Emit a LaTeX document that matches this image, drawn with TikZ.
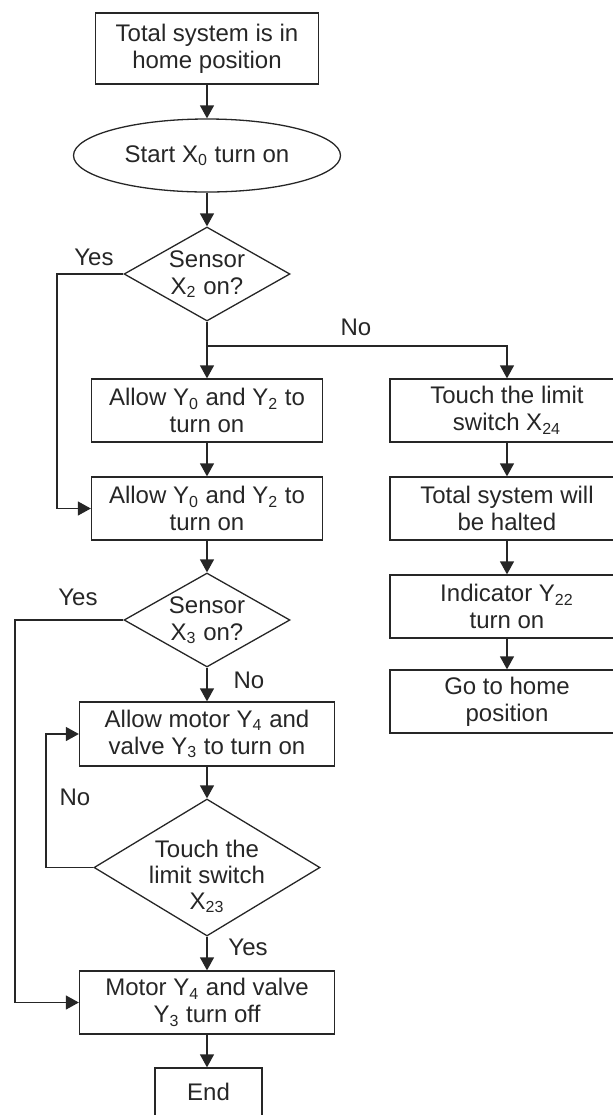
\documentclass[tikz,border=0pt]{standalone}
\usepackage{fontspec}
\setmainfont{Liberation Sans}
\usetikzlibrary{shapes.geometric,arrows.meta}

\tikzset{
  stepbox/.style={draw, rectangle, align=center, inner sep=0pt},
  decision/.style={draw, diamond, align=center, inner sep=-4pt, shape aspect=1.65},
  startnode/.style={draw, ellipse, align=center, inner sep=0pt},
  flow/.style={->, line width=0.65pt},
}

\begin{document}
\begin{tikzpicture}[x=0.5pt, y=-0.5pt, color=black!85, line width=0.65pt,
    >={Triangle[length=6.5pt,width=7pt]}, font=\fontsize{12}{13.5}\selectfont]
    \useasboundingbox (0,0) rectangle (613,1115);
    % main column
    \node[stepbox, minimum width=111.5pt, minimum height=35.5pt] (home) at (207,48.5) {Total system is in\\home position};
    \node[startnode, minimum width=133.5pt, minimum height=36.5pt] (start) at (207,155.5) {Start X\textsubscript{0} turn on};
    \node[decision, minimum width=83pt, minimum height=47pt] (sensorA) at (207,274) {Sensor\\X\textsubscript{2} on?};
    \node[stepbox, minimum width=115.5pt, minimum height=31.5pt] (allowA) at (207,410.5) {Allow Y\textsubscript{0} and Y\textsubscript{2} to\\turn on};
    \node[stepbox, minimum width=115.5pt, minimum height=31.5pt] (allowB) at (207,508.5) {Allow Y\textsubscript{0} and Y\textsubscript{2} to\\turn on};
    \node[decision, minimum width=83pt, minimum height=47pt] (sensorB) at (207,620) {Sensor\\X\textsubscript{3} on?};
    \node[stepbox, minimum width=127.5pt, minimum height=32pt] (motoron) at (207,734) {Allow motor Y\textsubscript{4} and\\valve Y\textsubscript{3} to turn on};
    \node[decision, minimum width=113pt, minimum height=68.5pt,
      label={[align=center, yshift=-4.5pt, font=\fontsize{12}{13}\selectfont]center:Touch the\\limit switch\\X\textsubscript{23}}] (limit) at (207,867.5) {};
    \node[stepbox, minimum width=127.5pt, minimum height=31.5pt] (motoroff) at (207,1002.5) {Motor Y\textsubscript{4} and valve\\Y\textsubscript{3} turn off};
    \node[stepbox, minimum width=53.5pt, minimum height=24pt] (finish) at (208.5,1092) {End};
    % right column
    \node[stepbox, minimum width=117pt, minimum height=31.5pt] (touch) at (507,410.5) {Touch the limit\\switch X\textsubscript{24}};
    \node[stepbox, minimum width=117pt, minimum height=31.5pt] (halt) at (507,508.5) {Total system will\\be halted};
    \node[stepbox, minimum width=117pt, minimum height=31.5pt] (indicator) at (507,606.5) {Indicator Y\textsubscript{22}\\turn on};
    \node[stepbox, minimum width=117pt, minimum height=31.5pt] (gohome) at (507,701.5) {Go to home\\position};
    % labels
    \node (yesA) at (94,257) {Yes};
    \node (noA) at (356,327) {No};
    \node (yesB) at (78,597) {Yes};
    \node (noB) at (249,680) {No};
    \node (noC) at (75,797) {No};
    \node (yesC) at (248,947) {Yes};
    % connectors
    \coordinate (split) at (207,346);
    \coordinate (cornerA) at (57,274);
    \coordinate (cornerB) at (15,620);
    \coordinate (cornerC) at (46,867.5);
    \draw[flow] (home) -- (start);
    \draw[flow] (start) -- (sensorA);
    \draw[flow] (sensorA) -- (allowA);
    \draw[flow] (split) -| (touch);
    \draw[flow] (allowA) -- (allowB);
    \draw[flow] (allowB) -- (sensorB);
    \draw[flow] (sensorB) -- (motoron);
    \draw[flow] (motoron) -- (limit);
    \draw[flow] (limit) -- (motoroff);
    \draw[flow] (motoroff.south) -- (motoroff.south |- finish.north);
    \draw[flow] (sensorA.west) -- (cornerA) |- (allowB.west);
    \draw[flow] (sensorB.west) -- (cornerB) |- (motoroff.west);
    \draw[flow] (limit.west) -- (cornerC) |- (motoron.west);
    \draw[flow] (touch) -- (halt);
    \draw[flow] (halt) -- (indicator);
    \draw[flow] (indicator) -- (gohome);
\end{tikzpicture}
\end{document}
